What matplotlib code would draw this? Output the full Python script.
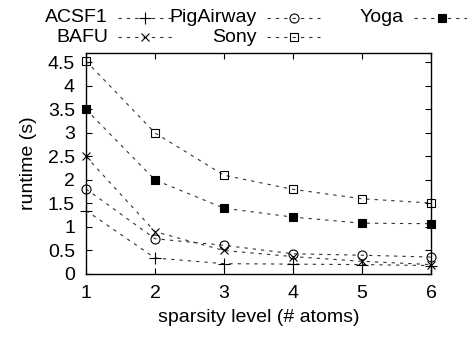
import matplotlib
matplotlib.use("Agg")
import matplotlib.pyplot as plt
from matplotlib.lines import Line2D

plt.rcParams['font.family'] = ['Liberation Sans', 'DejaVu Sans']
plt.rcParams['font.size'] = 14

sparsity = [1, 2, 3, 4, 5, 6]
series_names = ["ACSF1", "BAFU", "PigAirway", "Sony", "Yoga"]
acsf1 = [1.35, 0.34, 0.22, 0.21, 0.20, 0.18]
bafu = [2.50, 0.90, 0.50, 0.37, 0.27, 0.20]
pigairway = [1.81, 0.75, 0.61, 0.43, 0.40, 0.36]
sony = [4.53, 3.00, 2.10, 1.80, 1.60, 1.51]
yoga = [3.50, 2.00, 1.40, 1.21, 1.08, 1.07]
yticks = [0, 0.5, 1, 1.5, 2, 2.5, 3, 3.5, 4, 4.5]
ytick_labels = ["0", "0.5", "1", "1.5", "2", "2.5", "3", "3.5", "4", "4.5"]

W, H = 467, 337
fig = plt.figure(figsize=(W / 100, H / 100), dpi=100)
ax = fig.add_axes([86 / W, (H - 274) / H, (431 - 86) / W, (274 - 53) / H])

styles = {
    "ACSF1": dict(marker="+", ms=8, mfc="black", mew=0.8),
    "BAFU": dict(marker="x", ms=6, mfc="black", mew=0.8),
    "PigAirway": dict(marker="o", ms=6.5, mfc="none", mew=0.8),
    "Sony": dict(marker="s", ms=6, mfc="none", mew=0.8),
    "Yoga": dict(marker="s", ms=6, mfc="black", mew=0.8),
}
data = {"ACSF1": acsf1, "BAFU": bafu, "PigAirway": pigairway, "Sony": sony, "Yoga": yoga}
ls = (0, (3, 4.5))
lc = "#333333"
for name in series_names:
    ax.plot(sparsity, data[name], color=lc, lw=0.8, linestyle=ls,
            mec="black", clip_on=False, **styles[name])

ax.set_xlim(1, 6)
ax.set_ylim(0, 4.7)
ax.set_xticks(sparsity)
ax.set_yticks(yticks)
ax.set_yticklabels(ytick_labels)
ax.tick_params(direction="in", top=True, right=True, length=4, width=0.8, labelsize=14)
ax.tick_params(axis="y", pad=8)
ax.tick_params(axis="x", pad=8)
for s in ax.spines.values():
    s.set_linewidth(1.0)
ax.set_xlabel("sparsity level (# atoms)", fontsize=14, labelpad=5)
ax.set_ylabel("runtime (s)", fontsize=14, labelpad=8)

# manual gnuplot-style legend (text right-aligned before sample)
cols = [(108, 118, 172), (257, 267, 320), (404, 414, 470)]
rows = [18, 37]
order = [("ACSF1", 0, 0), ("BAFU", 0, 1), ("PigAirway", 1, 0), ("Sony", 1, 1), ("Yoga", 2, 0)]
for name, c, r in order:
    tx, x0, x1 = cols[c]
    y = 1 - rows[r] / H
    fig.text(tx / W, y, name, ha="right", va="center", fontsize=14)
    fig.add_artist(Line2D([x0 / W, x1 / W], [y, y], color=lc, lw=0.8, linestyle=ls))
    fig.add_artist(Line2D([(x0 + x1) / 2 / W], [y], color="black", lw=0, mec="black", **styles[name]))

fig.savefig("out.png", dpi=100)
